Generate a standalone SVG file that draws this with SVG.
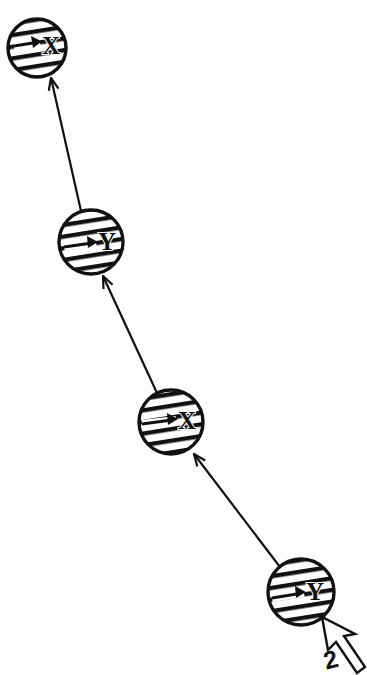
<svg xmlns="http://www.w3.org/2000/svg" width="367" height="675" viewBox="0 0 367 675">
<style>
.edge{stroke:#111;stroke-width:2.2;fill:none;marker-end:url(#vhead)}
.ring{fill:url(#hatch);stroke:#111;stroke-width:3.4}
.lbl{font-family:"Liberation Serif","DejaVu Serif",serif;font-weight:bold;font-size:25px;fill:#111;stroke:#fff;stroke-width:2;paint-order:stroke}
.halo{stroke:#fff;stroke-width:8;fill:none}
.sym{stroke:#111;stroke-width:3.2;fill:none}
.symh{fill:#111}
</style>
<defs>
<pattern id="hatch" patternUnits="userSpaceOnUse" width="40" height="11.5" patternTransform="rotate(-9)">
<rect x="0" y="0" width="40" height="11.5" fill="#fff"/>
<rect x="0" y="0" width="40" height="4.3" fill="#111"/>
</pattern>
<marker id="vhead" viewBox="0 0 14 12" refX="13" refY="6" markerWidth="14" markerHeight="12" markerUnits="userSpaceOnUse" orient="auto">
<path d="M1,1 L13,6 L1,11" fill="none" stroke="#111" stroke-width="2.2"/>
</marker>
</defs>
<g id="connectors">
<line class="edge" x1="81" y1="211" x2="51" y2="78"/>
<line class="edge" x1="157" y1="393" x2="103" y2="276"/>
<line class="edge" x1="280" y1="567" x2="194" y2="454"/>
</g>
<g id="n1">
<circle class="ring" cx="37" cy="48" r="29"/>
<path class="halo" d="M14,46 L40,42"/>
<path class="sym" d="M14,46 L36,42.5"/>
<path class="symh" d="M42,41.5 L31,36 L33,48 Z"/>
<text class="lbl" x="42" y="54">X</text>
</g>
<g id="n2">
<circle class="ring" cx="91" cy="242" r="32"/>
<path class="halo" d="M64,247 L96,242"/>
<path class="sym" d="M64,247 L92,243"/>
<path class="symh" d="M98,242 L87,236 L88,248 Z"/>
<text class="lbl" x="98" y="250">Y</text>
</g>
<g id="n3">
<circle class="ring" cx="171" cy="422" r="32"/>
<path class="halo" d="M142,424 L176,420"/>
<path class="sym" d="M142,424 L172,420"/>
<path class="symh" d="M178,419 L167,413 L168,425 Z"/>
<text class="lbl" x="178" y="429">X</text>
</g>
<g id="n4">
<circle class="ring" cx="301" cy="592" r="33"/>
<path class="halo" d="M272,598 L304,593"/>
<path class="sym" d="M272,598 L300,593.5"/>
<path class="symh" d="M306,592 L295,586 L296,598 Z"/>
<text class="lbl" x="306" y="600">Y</text>
</g>
<g id="pointer">
<polygon points="322,617 328,650 336,642 357,673 365,667 344,636 355,634" fill="#fff" stroke="#111" stroke-width="2.4" stroke-linejoin="miter"/>
<text x="333" y="668" transform="rotate(-15 333 668)" text-anchor="middle" font-family="Liberation Sans, Arial, sans-serif" font-weight="bold" font-size="25" fill="#111">2</text>
</g>
</svg>
